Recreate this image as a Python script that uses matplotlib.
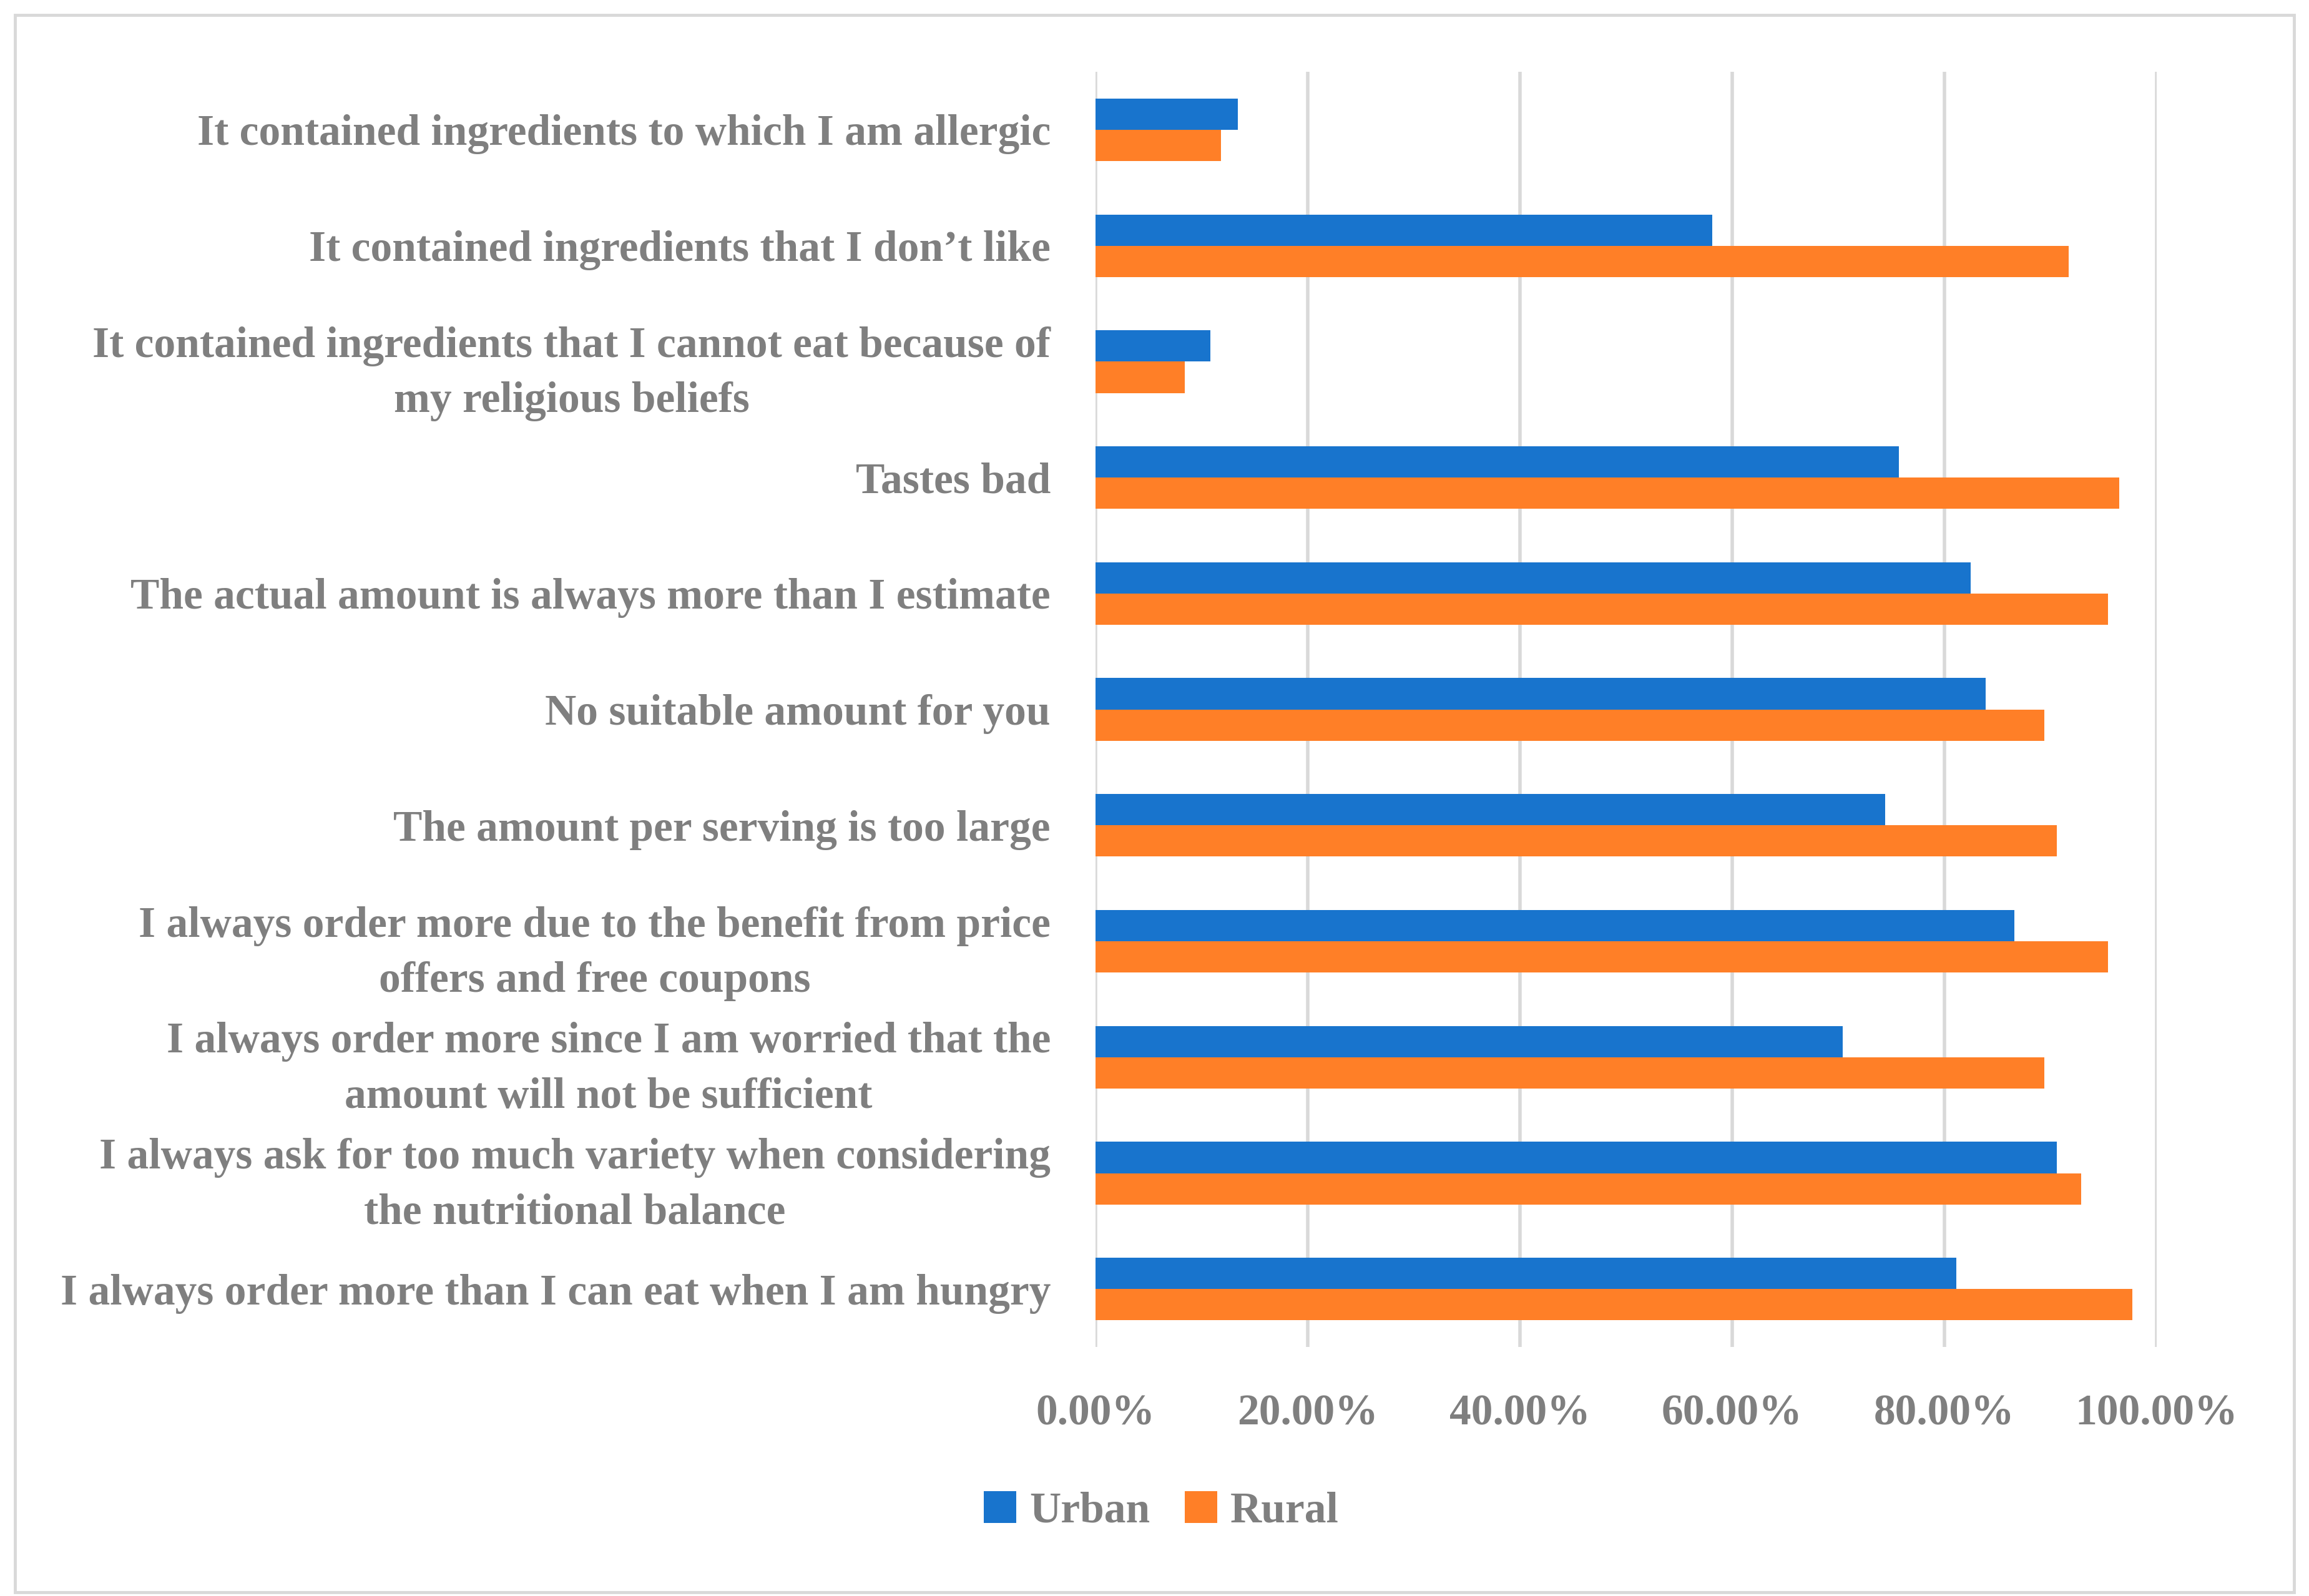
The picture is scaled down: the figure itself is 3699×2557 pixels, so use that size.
import numpy as np
import matplotlib.pyplot as plt
from matplotlib.patches import Rectangle
from matplotlib.ticker import FuncFormatter

# reasons, listed top to bottom as in the chart
reasons = [
    "It contained ingredients to which I am allergic",
    "It contained ingredients that I don\u2019t like",
    "It contained ingredients that I cannot eat because of\nmy religious beliefs",
    "Tastes bad",
    "The actual amount is always more than I estimate",
    "No suitable amount for you",
    "The amount per serving is too large",
    "I always order more due to the benefit from price\noffers and free coupons",
    "I always order more since I am worried that the\namount will not be sufficient",
    "I always ask for too much variety when considering\nthe nutritional balance",
    "I always order more than I can eat when I am hungry",
]
urban = [13.4, 58.1, 10.8, 75.7, 82.5, 83.9, 74.4, 86.6, 70.4, 90.6, 81.1]
rural = [11.8, 91.7, 8.4, 96.5, 95.4, 89.4, 90.6, 95.4, 89.4, 92.9, 97.7]
xticks = [0, 20, 40, 60, 80, 100]

blue = '#1874CD'
orange = '#FF7F27'
grey = '#7F7F7F'
grid = '#D9D9D9'

plt.rcParams['font.family'] = ['Liberation Serif', 'DejaVu Serif']
plt.rcParams['font.weight'] = 'bold'

fig = plt.figure(figsize=(36.99, 25.57), dpi=100)
ax = fig.add_axes([0.4745, 0.156, 0.4595, 0.799])

n = len(reasons)
y = np.arange(n)
h = 0.27
ax.barh(y - h / 2, urban, height=h, color=blue, label='Urban', zorder=3)
ax.barh(y + h / 2, rural, height=h, color=orange, label='Rural', zorder=3)

ax.set_ylim(n - 0.5, -0.5)
ax.set_xlim(0, 100)
ax.set_xticks(xticks)
ax.xaxis.set_major_formatter(FuncFormatter(lambda v, p: f'{v:.2f}%'))
ax.set_yticks(y)
ax.set_yticklabels(reasons)
for lab in ax.get_yticklabels():
    lab.set_multialignment('center')
    lab.set_linespacing(1.5)

ax.tick_params(axis='y', length=0, pad=52, labelsize=50, labelcolor=grey)
ax.tick_params(axis='x', length=0, pad=54, labelsize=50, labelcolor=grey)
ax.grid(axis='x', color=grid, linewidth=4, zorder=0)
for s in ax.spines.values():
    s.set_visible(False)

leg = fig.legend(loc='center', bbox_to_anchor=(0.503, 0.053), ncol=2, frameon=False,
                 fontsize=50, handlelength=0.75, handleheight=0.75, handletextpad=0.3,
                 columnspacing=0.8)
for t in leg.get_texts():
    t.set_color(grey)

# outer frame around the chart
fig.patches.append(Rectangle((0.0065, 0.0025), 0.987, 0.988, transform=fig.transFigure,
                             fill=False, edgecolor=grid, linewidth=3.5))

fig.savefig('out.png', dpi=100, facecolor='white')
